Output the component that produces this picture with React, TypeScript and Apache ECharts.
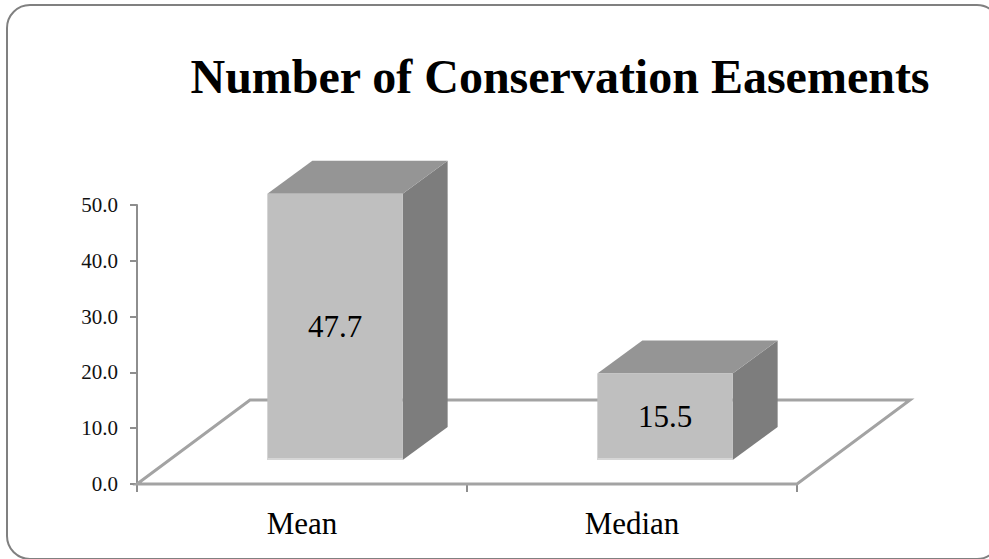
import React, { useEffect, useRef } from "react";
import * as echarts from "echarts";

// Chart data
const categories: string[] = ["Mean", "Median"];
const easementValues: number[] = [47.7, 15.5];
const yTicks: number[] = [0, 10, 20, 30, 40, 50];

const SERIF = '"Liberation Serif", "Times New Roman", Times, serif';

// 3D look: floor depth, bar offset into the floor and bar depth (pixels)
const FLOOR_DX = 113;
const FLOOR_DY = -84;
const BAR_FRONT_DX = 33;
const BAR_FRONT_DY = -24;
const BAR_DEPTH_DX = 45;
const BAR_DEPTH_DY = -33;
const BAR_WIDTH_RATIO = 0.41;

// Rounded outer frame (partly beyond the right and bottom edges)
const FRAME = { x0: 7, y0: 5, x1: 1000, y1: 559, r: 23 };

function frameElements() {
  const { x0, y0, x1, y1, r } = FRAME;
  const style = { fill: "none", stroke: "#808080", lineWidth: 2 };
  const line = (a: number, b: number, c: number, d: number) => ({
    type: "line",
    shape: { x1: a, y1: b, x2: c, y2: d },
    style,
    silent: true,
    z: 100,
  });
  const arc = (cx: number, cy: number, s: number, e: number) => ({
    type: "arc",
    shape: { cx, cy, r, startAngle: s, endAngle: e, clockwise: true },
    style,
    silent: true,
    z: 100,
  });
  return [
    line(x0 + r, y0, x1 - r, y0),
    line(x0, y0 + r, x0, y1 - r),
    line(x0 + r, y1, x1 - r, y1),
    line(x1, y0 + r, x1, y1 - r),
    arc(x0 + r, y0 + r, Math.PI, Math.PI * 1.5),
    arc(x1 - r, y0 + r, -Math.PI / 2, 0),
    arc(x0 + r, y1 - r, Math.PI / 2, Math.PI),
    arc(x1 - r, y1 - r, 0, Math.PI / 2),
  ];
}

export default function App() {
  const ref = useRef<HTMLDivElement>(null);

  useEffect(() => {
    if (!ref.current) return;
    const chart = echarts.init(ref.current, undefined, { renderer: "svg" });

    const option: any = {
      animation: false,
      backgroundColor: "#ffffff",
      grid: { left: 137, right: 192, top: 205, bottom: 75, containLabel: false },
      xAxis: {
        type: "category",
        data: categories,
        boundaryGap: true,
        axisLine: { show: true, lineStyle: { color: "#8e8e8e", width: 2 } },
        axisTick: { show: true, length: 8, lineStyle: { color: "#8e8e8e", width: 2 } },
        axisLabel: {
          color: "#000",
          fontFamily: SERIF,
          fontSize: 31,
          margin: 24,
        },
        splitLine: { show: false },
      },
      yAxis: {
        type: "value",
        min: yTicks[0],
        max: yTicks[yTicks.length - 1],
        interval: yTicks[1] - yTicks[0],
        axisLine: { show: true, lineStyle: { color: "#8e8e8e", width: 2 } },
        axisTick: { show: true, length: 7, lineStyle: { color: "#8e8e8e", width: 2 } },
        axisLabel: {
          color: "#111",
          fontFamily: SERIF,
          fontSize: 21,
          margin: 19,
          formatter: (v: number) => v.toFixed(1),
        },
        splitLine: { show: false },
      },
      graphic: [
        ...frameElements(),
        {
          type: "text",
          x: 560,
          y: 52,
          style: {
            text: "Number of Conservation Easements",
            font: `bold 48px ${SERIF}`,
            fill: "#000",
            align: "center",
            verticalAlign: "top",
            textAlign: "center",
            textVerticalAlign: "top",
          },
          silent: true,
        },
      ],
      series: [
        {
          // floor outline of the 3D plot area
          type: "custom",
          z: 1,
          silent: true,
          data: [[0, 0]],
          renderItem: (params: any) => {
            const cs = params.coordSys;
            const x0 = cs.x;
            const x1 = cs.x + cs.width;
            const yb = cs.y + cs.height;
            return {
              type: "polygon",
              shape: {
                points: [
                  [x0, yb],
                  [x1, yb],
                  [x1 + FLOOR_DX, yb + FLOOR_DY],
                  [x0 + FLOOR_DX, yb + FLOOR_DY],
                ],
              },
              style: { fill: "#ffffff", stroke: "#a3a3a3", lineWidth: 3, lineJoin: "miter" },
            };
          },
        },
        {
          // 3D columns
          type: "custom",
          z: 3,
          silent: true,
          encode: { x: 0, y: 1 },
          data: categories.map((_, i) => [i, easementValues[i]]),
          renderItem: (params: any, api: any) => {
            const idx = api.value(0);
            const val = api.value(1);
            const base = api.coord([idx, 0]);
            const catW = api.size([1, 0])[0];
            const h = api.size([0, val])[1];
            const w = catW * BAR_WIDTH_RATIO;
            const left = base[0] + BAR_FRONT_DX - w / 2;
            const right = left + w;
            const bottom = base[1] + BAR_FRONT_DY;
            const top = bottom - h;
            const dx = BAR_DEPTH_DX;
            const dy = BAR_DEPTH_DY;
            return {
              type: "group",
              children: [
                {
                  type: "polygon",
                  shape: {
                    points: [
                      [right, top],
                      [right + dx, top + dy],
                      [right + dx, bottom + dy],
                      [right, bottom],
                    ],
                  },
                  style: { fill: "#7d7d7d" },
                },
                {
                  type: "polygon",
                  shape: {
                    points: [
                      [left, top],
                      [left + dx, top + dy],
                      [right + dx, top + dy],
                      [right, top],
                    ],
                  },
                  style: { fill: "#959595" },
                },
                {
                  type: "rect",
                  shape: { x: left, y: top, width: w, height: h },
                  style: { fill: "#bfbfbf" },
                },
                {
                  type: "line",
                  shape: { x1: left, y1: bottom - 1, x2: right, y2: bottom - 1 },
                  style: { stroke: "#d6d6d6", lineWidth: 2 },
                },
                {
                  type: "text",
                  x: (left + right) / 2,
                  y: (top + bottom) / 2,
                  style: {
                    text: val.toFixed(1),
                    font: `31px ${SERIF}`,
                    fill: "#000",
                    align: "center",
                    verticalAlign: "middle",
                    textAlign: "center",
                    textVerticalAlign: "middle",
                  },
                },
              ],
            };
          },
        },
      ],
    };

    chart.setOption(option);
    return () => chart.dispose();
  }, []);

  return (
    <div
      ref={ref}
      style={{ position: "fixed", left: 0, top: 0, width: 989, height: 559, background: "#fff" }}
    />
  );
}
